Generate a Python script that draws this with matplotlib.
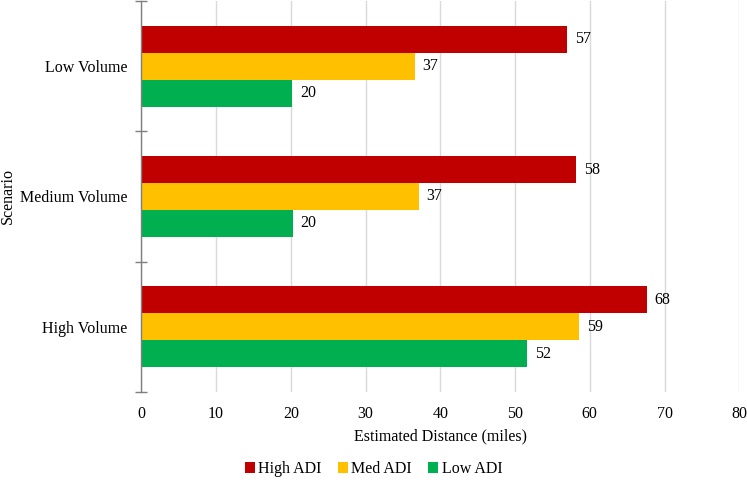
import numpy as np
import matplotlib.pyplot as plt

# Datos
escenarios = ['High Volume', 'Medium Volume', 'Low Volume']
series = ['High ADI', 'Med ADI', 'Low ADI']
high_adi = [67.6, 58.2, 57.0]
med_adi = [58.6, 37.1, 36.6]
low_adi = [51.6, 20.3, 20.2]
colores = ['#C00000', '#FFC000', '#00B050']

plt.rcParams['font.family'] = ['Liberation Serif', 'DejaVu Serif']
plt.rcParams['font.size'] = 11.5

fig = plt.figure(figsize=(7.47, 4.8), dpi=100)
ax = fig.add_axes([141.3 / 747, 1 - 392 / 480, (739.3 - 141.3) / 747, 391 / 480])

y = np.arange(len(escenarios))
alto = 0.207
desplaz = [alto, 0, -alto]
valores = [high_adi, med_adi, low_adi]

for nombre, vals, col, d in zip(series, valores, colores, desplaz):
    barras = ax.barh(y + d, vals, height=alto, color=col, label=nombre, zorder=3)
    for b, v in zip(barras, vals):
        ax.annotate(f'{v:.0f}', (v, b.get_y() + b.get_height() / 2),
                    xytext=(5.5, 0), textcoords='offset points',
                    va='center', ha='left')

ax.set_xlim(0, 80)
ax.set_ylim(-0.5, 2.5)
ax.set_xticks(np.arange(0, 81, 10))
ax.grid(axis='x', color='#D9D9D9', linewidth=1, zorder=0)

# eje y: marcas entre categorías
ax.set_yticks(y)
ax.set_yticklabels(escenarios)
ax.tick_params(axis='y', length=0, pad=10)
ax.set_yticks(np.arange(-0.5, 2.6, 1), minor=True)
ax.tick_params(axis='y', which='minor', length=9, direction='inout', color='#7F7F7F', width=1)
ax.tick_params(axis='x', length=0, pad=10)

for s in ['top', 'right', 'bottom']:
    ax.spines[s].set_visible(False)
ax.spines['left'].set_color('#7F7F7F')
ax.spines['left'].set_linewidth(1)
ax.spines['left'].set_zorder(4)

ax.set_xlabel('Estimated Distance (miles)', labelpad=5)
fig.text(7.5 / 747, 1 - 196 / 480, 'Scenario', rotation=90, ha='center', va='center')

fig.legend(loc='center', bbox_to_anchor=(0.5, 1 - 469 / 480), ncol=3, frameon=False,
           handlelength=0.65, handleheight=0.65, handletextpad=0.2, columnspacing=1.0)

fig.savefig('out.png', dpi=100)
